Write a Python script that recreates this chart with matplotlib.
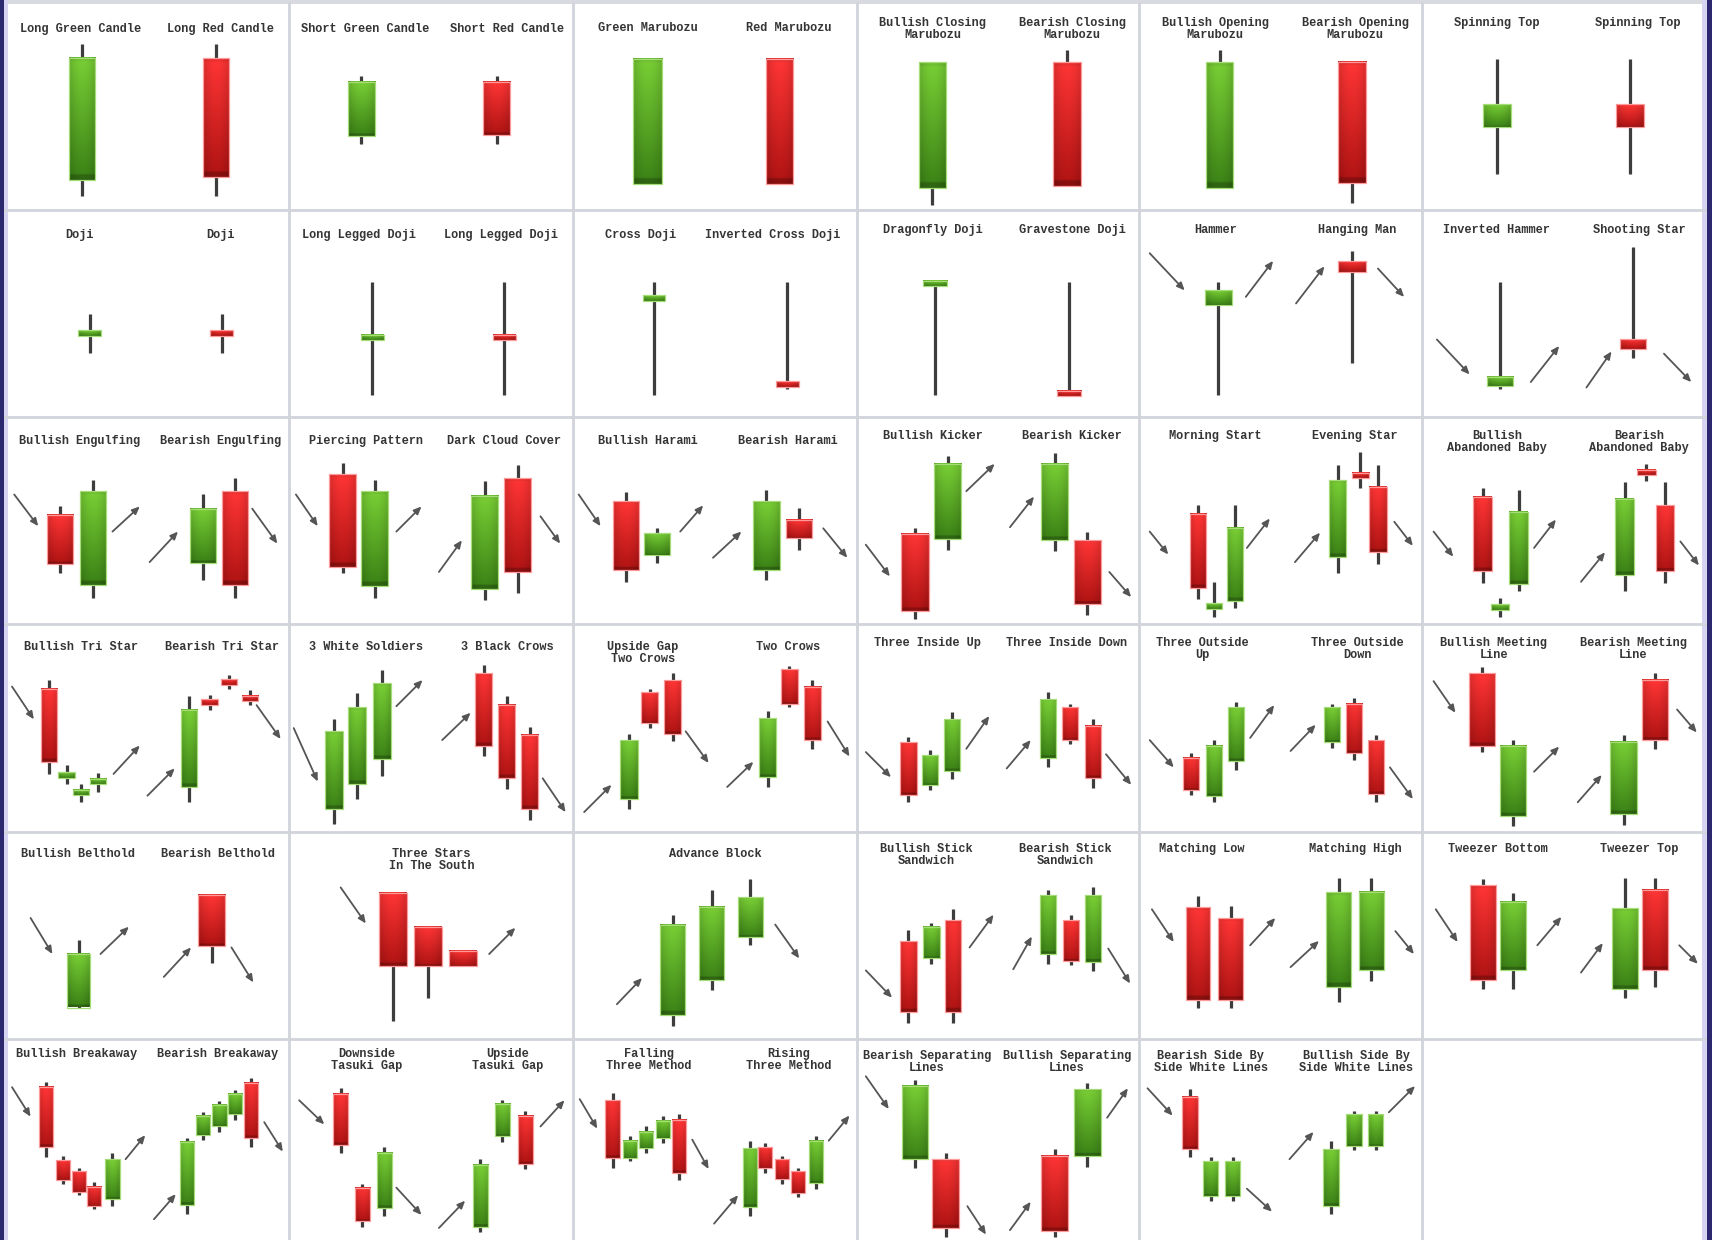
import numpy as np
import matplotlib
matplotlib.use("Agg")
import matplotlib.pyplot as plt
from matplotlib.colors import to_rgb
from matplotlib.patches import Rectangle
from matplotlib.lines import Line2D

# ------------------------------------------------------------------ data
# Each candle: (open, high, low, close), read in each cell's own price scale
# (0 = bottom of the cell, 190 = top of the cell).

R1_TITLES = ["Long Green Candle", "Long Red Candle", "Short Green Candle", "Short Red Candle",
             "Green Marubozu", "Red Marubozu", "Bullish Closing\nMarubozu", "Bearish Closing\nMarubozu",
             "Bullish Opening\nMarubozu", "Bearish Opening\nMarubozu", "Spinning Top", "Spinning Top"]
R1_OHLC = [[(28, 153, 13, 140)], [(140, 153, 13, 31)], [(68, 123, 61, 118)], [(118, 123, 61, 69)],
           [(24, 139, 24, 139)], [(139, 139, 24, 24)], [(21, 136, 5, 136)], [(136, 147, 23, 23)],
           [(21, 147, 21, 136)], [(136, 136, 7, 25)], [(77, 139, 34, 98)], [(98, 139, 34, 77)]]

R2_TITLES = ["Doji", "Doji", "Long Legged Doji", "Long Legged Doji", "Cross Doji", "Inverted Cross Doji",
             "Dragonfly Doji", "Gravestone Doji", "Hammer", "Hanging Man", "Inverted Hammer", "Shooting Star"]
R2_OHLC = [[(76, 94, 59, 78)], [(78, 94, 59, 76)], [(72, 124, 20, 74)], [(74, 124, 20, 72)],
           [(108, 124, 20, 110)], [(31, 124, 26, 29)], [(121, 124, 20, 124)], [(23, 124, 20, 20)],
           [(103, 124, 20, 116)], [(143, 152, 49, 133)], [(28, 124, 26, 37)], [(71, 156, 54, 62)]]

R3_TITLES = ["Bullish Engulfing", "Bearish Engulfing", "Piercing Pattern", "Dark Cloud Cover",
             "Bullish Harami", "Bearish Harami", "Bullish Kicker", "Bearish Kicker",
             "Morning Start", "Evening Star", "Bullish\nAbandoned Baby", "Bearish\nAbandoned Baby"]
R3_OHLC = [[(100, 108, 47, 55), (36, 132, 24, 122)],
           [(56, 119, 41, 106), (122, 134, 24, 36)],
           [(138, 148, 47, 53), (35, 132, 24, 122)],
           [(32, 131, 22, 118), (134, 146, 29, 48)],
           [(113, 121, 39, 50), (64, 88, 56, 84)],
           [(50, 123, 41, 113), (96, 107, 68, 79)],
           [(83, 88, 5, 12), (78, 154, 68, 147)],
           [(77, 157, 67, 147), (77, 85, 9, 19)],
           [(101, 109, 23, 33), (16, 39, 7, 18), (21, 109, 15, 88)],
           [(62, 146, 47, 132), (138, 158, 125, 135), (126, 146, 55, 66)],
           [(117, 125, 38, 49), (15, 24, 7, 17), (37, 123, 31, 103)],
           [(45, 130, 31, 115), (140, 147, 131, 138), (109, 130, 38, 49)]]

R4_TITLES = ["Bullish Tri Star", "Bearish Tri Star", "3 White Soldiers", "3 Black Crows",
             "Upside Gap\nTwo Crows", "Two Crows", "Three Inside Up", "Three Inside Down",
             "Three Outside\nUp", "Three Outside\nDown", "Bullish Meeting\nLine", "Bearish Meeting\nLine"]
R4_OHLC = [[(131, 139, 53, 64), (51, 61, 44, 53), (35, 44, 27, 37), (45, 54, 36, 47)],
           [(41, 124, 27, 112), (120, 125, 112, 118), (138, 144, 131, 136), (123, 130, 116, 121)],
           [(21, 103, 7, 92), (44, 127, 30, 114), (67, 148, 51, 136)],
           [(145, 153, 69, 79), (116, 124, 39, 49), (89, 96, 11, 21)],
           [(30, 90, 21, 84), (128, 131, 95, 100), (139, 145, 83, 90)],
           [(50, 111, 41, 104), (149, 152, 114, 117), (133, 139, 76, 84)],
           [(82, 87, 27, 34), (43, 75, 38, 70), (56, 110, 48, 103)],
           [(68, 128, 59, 122), (114, 117, 80, 84), (97, 103, 40, 49)],
           [(68, 72, 34, 38), (33, 84, 27, 79), (65, 119, 57, 114)],
           [(82, 117, 77, 114), (117, 123, 66, 72), (84, 89, 27, 35)],
           [(145, 151, 73, 79), (14, 84, 5, 79)],
           [(16, 89, 6, 82), (139, 145, 76, 84)]]

R5_TITLES = ["Bullish Belthold", "Bearish Belthold", "Three Stars\nIn The South", "Advance Block",
             "Bullish Stick\nSandwich", "Bearish Stick\nSandwich", "Matching Low", "Matching High",
             "Tweezer Bottom", "Tweezer Top"]
R5_OHLC = [[(29, 91, 29, 78)],
           [(132, 132, 70, 85)],
           [(134, 134, 17, 67), (103, 103, 38, 67), (81, 81, 67, 67)],
           [(22, 114, 12, 105), (54, 137, 45, 121), (94, 147, 86, 130)],
           [(90, 100, 15, 25), (74, 106, 69, 103), (109, 119, 15, 25)],
           [(78, 137, 69, 132), (109, 114, 68, 72), (71, 139, 62, 132)],
           [(121, 131, 29, 36), (111, 122, 29, 36)],
           [(48, 148, 34, 135), (63, 148, 53, 135)],
           [(141, 147, 46, 54), (63, 134, 46, 126)],
           [(46, 148, 38, 120), (137, 148, 48, 63)]]

R6_TITLES = ["Bullish Breakaway", "Bearish Breakaway", "Downside\nTasuki Gap", "Upside\nTasuki Gap",
             "Falling\nThree Method", "Rising\nThree Method", "Bearish Separating\nLines",
             "Bullish Separating\nLines", "Bearish Side By\nSide White Lines",
             "Bullish Side By\nSide White Lines"]
R6_OHLC = [[(146, 151, 82, 91), (79, 83, 57, 61), (69, 72, 47, 50), (55, 59, 34, 37), (44, 86, 37, 80)],
           [(38, 99, 30, 96), (102, 123, 98, 120), (110, 133, 105, 130), (121, 143, 116, 140), (150, 154, 91, 99)],
           [(140, 145, 86, 93), (54, 57, 18, 23), (35, 91, 28, 86)],
           [(18, 80, 13, 75), (101, 134, 96, 131), (120, 124, 71, 76)],
           [(134, 141, 72, 81), (81, 101, 78, 97), (90, 110, 86, 105), (99, 120, 95, 115), (116, 121, 61, 67)],
           [(36, 97, 28, 90), (91, 95, 67, 72), (80, 83, 57, 62), (69, 72, 45, 49), (58, 101, 53, 97)],
           [(80, 153, 72, 147), (80, 86, 9, 17)],
           [(83, 89, 9, 14), (83, 150, 73, 144)],
           [(137, 144, 82, 89), (46, 82, 42, 78), (46, 82, 42, 78)],
           [(37, 97, 30, 89), (92, 124, 88, 121), (92, 124, 88, 121)]]

# ------------------------------------------------------------------ layout
# candle x positions inside a cell, body widths, trend arrows (x0, y0, x1, y1), title centres
R1_X = [[70], [193], [66], [190], [68], [189], [69], [192], [74], [195], [69], [191]]
R1_W = [24, 24, 25, 25, 27, 25, 25, 26, 24, 26, 25, 25]
R1_ARROWS = [[] for _ in range(12)]
R1_TX = [69, 197, 69, 199, 68, 197, 69, 197, 70, 198, 69, 198]

R2_X = [[77], [198], [76], [197], [74], [196], [71], [194], [73], [195], [72], [194]]
R2_W = [21, 21, 21, 21, 21, 21, 22, 22, 25, 26, 24, 24]
R2_ARROWS = [[], [], [], [], [], [], [], [],
             [(10, 150, 42, 116), (98, 110, 123, 143)],
             [(144, 104, 170, 138), (219, 136, 243, 110)],
             [(14, 71, 44, 39), (100, 32, 126, 65)],
             [(151, 27, 174, 60), (222, 58, 247, 32)]]
R2_TX = [68, 197, 64, 194, 62, 183, 69, 197, 70, 200, 69, 199]

R3_X = [[50, 80], [181, 210], [49, 78], [179, 209], [48, 77], [177, 207],
        [53, 83], [181, 211], [54, 69, 88], [182, 203, 219], [56, 72, 89], [186, 206, 223]]
R3_W = [24, 24, 25, 25, 24, 24, 25, 25, 15, 16, 17, 17]
R3_ARROWS = [[(8, 119, 30, 90), (98, 85, 123, 108)],
             [(132, 57, 158, 85), (226, 106, 249, 74)],
             [(6, 119, 26, 90), (98, 85, 121, 108)],
             [(137, 48, 158, 77), (230, 99, 248, 74)],
             [(5, 119, 25, 90), (98, 85, 119, 109)],
             [(128, 61, 154, 85), (229, 88, 251, 61)],
             [(8, 73, 30, 44), (100, 122, 126, 147)],
             [(140, 89, 162, 117), (231, 48, 251, 25)],
             [(10, 85, 27, 64), (99, 70, 120, 97)],
             [(143, 57, 166, 84), (234, 94, 251, 72)],
             [(11, 85, 29, 62), (103, 70, 123, 96)],
             [(146, 39, 168, 66), (237, 76, 254, 54)]]
R3_TX = [68, 197, 70, 197, 68, 197, 69, 197, 70, 198, 69, 199]

R4_X = [[40, 56, 69, 85], [168, 187, 205, 224], [41, 62, 85], [178, 199, 220],
        [51, 70, 91], [178, 198, 219], [47, 67, 87], [175, 195, 216],
        [48, 69, 89], [177, 197, 217], [55, 84], [185, 214]]
R4_W = [15, 15, 16, 16, 16, 16, 15, 15, 15, 15, 24, 24]
R4_ARROWS = [[(6, 133, 26, 103), (99, 53, 123, 79)],
             [(130, 33, 155, 58), (230, 116, 252, 85)],
             [(4, 95, 26, 46), (98, 115, 122, 139)],
             [(140, 84, 166, 109), (232, 49, 253, 18)],
             [(10, 18, 35, 43), (103, 92, 124, 63)],
             [(141, 41, 165, 64), (233, 101, 253, 69)],
             [(8, 73, 31, 50), (100, 76, 121, 106)],
             [(137, 58, 159, 84), (228, 71, 251, 43)],
             [(10, 84, 32, 59), (102, 86, 124, 116)],
             [(139, 74, 162, 98), (230, 59, 251, 30)],
             [(11, 138, 31, 109), (103, 55, 126, 78)],
             [(143, 27, 165, 52), (234, 112, 252, 91)]]
R4_TX = [69, 198, 70, 200, 64, 197, 64, 192, 58, 200, 66, 194]

R5_X = [[67], [189], [95, 127, 159], [91, 127, 162], [47, 68, 88], [175, 196, 216],
        [54, 84], [183, 213], [56, 84], [186, 214]]
R5_W = [21, 25, 25, 23, 15, 15, 22, 23, 24, 24]
R5_ARROWS = [[(23, 111, 43, 78), (87, 78, 113, 103)],
             [(145, 57, 170, 84), (207, 84, 227, 52)],
             [(47, 139, 70, 106), (183, 78, 207, 102)],
             [(40, 32, 63, 56), (185, 105, 207, 74)],
             [(8, 63, 32, 38), (103, 84, 125, 114)],
             [(143, 64, 160, 94), (230, 83, 250, 51)],
             [(12, 119, 32, 89), (102, 86, 125, 111)],
             [(139, 66, 165, 90), (235, 99, 252, 78)],
             [(13, 119, 33, 89), (106, 86, 128, 112)],
             [(146, 61, 166, 88), (236, 86, 253, 69)]]
R5_TX = [66, 195, 130, 130, 63, 191, 58, 198, 70, 199]

R6_X = [[37, 53, 67, 81, 98], [166, 181, 196, 210, 225], [47, 67, 87], [175, 195, 216],
        [36, 52, 67, 82, 97], [162, 176, 191, 206, 222], [53, 81], [181, 211],
        [47, 66, 86], [176, 197, 217]]
R6_W = [13, 13, 14, 14, 13, 13, 24, 25, 14, 14]
R6_ARROWS = [[(6, 146, 23, 119), (110, 80, 128, 102)],
             [(136, 25, 156, 48), (237, 114, 254, 87)],
             [(9, 134, 32, 112), (98, 54, 121, 29)],
             [(137, 17, 161, 42), (230, 110, 252, 134)],
             [(6, 135, 22, 108), (109, 98, 124, 71)],
             [(129, 21, 151, 47), (234, 97, 253, 120)],
             [(8, 156, 29, 126), (101, 37, 118, 11)],
             [(140, 15, 159, 41), (229, 118, 248, 145)],
             [(8, 145, 31, 120), (99, 53, 122, 32)],
             [(138, 80, 160, 105), (229, 123, 253, 147)]]
R6_TX = [65, 194, 71, 200, 69, 197, 64, 192, 66, 199]

CELL_COUNTS = [[2] * 6, [2] * 6, [2] * 6, [2] * 6, [2, 1, 1, 2, 2, 2], [2, 2, 2, 2, 2, 0]]
TITLE_Y = [[24, 24, 23, 18, 18, 18], [23, 23, 23, 19, 19, 19], [22, 22, 22, 17, 17, 17],
           [21, 21, 21, 17, 17, 17], [20, 20, 20, 16, 16, 16], [14, 14, 14, 15, 15, 15]]

W_REF, H_REF = 1568.0, 1136.0
COL_EDGES = [5, 265, 525, 785, 1043, 1302, 1562]
ROW_TOPS = [3, 192, 382, 572, 762, 952]
CELL_H = 190

# ------------------------------------------------------------------ styles
GREEN_TOP, GREEN_BOT = np.array(to_rgb("#79cf35")), np.array(to_rgb("#3b8216"))
RED_TOP, RED_BOT = np.array(to_rgb("#ff3535")), np.array(to_rgb("#b01313"))
WICK = "#3d3d3d"
ARROW = "#555555"
TEXT = "#353535"


def body_image(top, bot):
    n, m = 64, 16
    t = np.linspace(0, 1, n)[:, None]
    col = top[None, :] * (1 - t) + bot[None, :] * t
    u = np.linspace(-1, 1, m)
    shade = 1 - 0.14 * u ** 2
    img = col[:, None, :] * shade[None, :, None]
    img[-3:] *= 0.78
    img[:2] *= 0.93
    return np.clip(img, 0, 1)


IMG_G = body_image(GREEN_TOP, GREEN_BOT)
IMG_R = body_image(RED_TOP, RED_BOT)


def draw_candle(ax, x, w, o, h, l, c):
    bull = c >= o
    ax.add_line(Line2D([x, x], [l, h], color=WICK, lw=2.3, solid_capstyle="butt", zorder=2))
    lo, hi = min(o, c), max(o, c)
    if hi - lo < 5:
        mid = (hi + lo) / 2.0
        lo, hi = mid - 2.5, mid + 2.5
    img = IMG_G if bull else IMG_R
    ax.imshow(img, extent=(x - w / 2, x + w / 2, lo, hi), origin="upper", aspect="auto",
              interpolation="bilinear", zorder=3)
    ax.add_patch(Rectangle((x - w / 2, lo), w, hi - lo, fill=False,
                           edgecolor="#a5dd78" if bull else "#ff9a9a", lw=0.9, zorder=4))


fig = plt.figure(figsize=(17.12, 12.40), dpi=100)
fig.patch.set_facecolor("white")

rows = [(R1_TITLES, R1_OHLC, R1_X, R1_W, R1_ARROWS, R1_TX),
        (R2_TITLES, R2_OHLC, R2_X, R2_W, R2_ARROWS, R2_TX),
        (R3_TITLES, R3_OHLC, R3_X, R3_W, R3_ARROWS, R3_TX),
        (R4_TITLES, R4_OHLC, R4_X, R4_W, R4_ARROWS, R4_TX),
        (R5_TITLES, R5_OHLC, R5_X, R5_W, R5_ARROWS, R5_TX),
        (R6_TITLES, R6_OHLC, R6_X, R6_W, R6_ARROWS, R6_TX)]

for r, (titles, ohlc, xs, ws, arrows, tx) in enumerate(rows):
    k = 0
    top = ROW_TOPS[r]
    for c in range(6):
        left, right = COL_EDGES[c], COL_EDGES[c + 1]
        ax = fig.add_axes([left / W_REF, 1 - (top + CELL_H) / H_REF,
                           (right - left) / W_REF, CELL_H / H_REF])
        ax.axis("off")
        for _ in range(CELL_COUNTS[r][c]):
            for (o, h, l, cl), x in zip(ohlc[k], xs[k]):
                draw_candle(ax, x, ws[k], o, h, l, cl)
            for (x0, y0, x1, y1) in arrows[k]:
                ax.annotate("", xy=(x1, y1), xytext=(x0, y0), annotation_clip=False,
                            arrowprops=dict(arrowstyle="-|>,head_length=0.45,head_width=0.2",
                                            color=ARROW, lw=1.3, shrinkA=0, shrinkB=0))
            for i, line in enumerate(titles[k].split("\n")):
                ax.text(tx[k], CELL_H - TITLE_Y[r][c] - i * 11, line, ha="center", va="center",
                        fontsize=8.6, fontweight="bold", family="Liberation Mono", color=TEXT)
            k += 1
        ax.set_xlim(0, right - left)
        ax.set_ylim(0, CELL_H)

# grid lines and frame
GRID = "#d2d4dc"
for xe in COL_EDGES[1:-1]:
    fig.add_artist(Line2D([xe / W_REF] * 2, [0, 1 - ROW_TOPS[0] / H_REF],
                          transform=fig.transFigure, color=GRID, lw=2.0))
for ye in ROW_TOPS[1:]:
    fig.add_artist(Line2D([COL_EDGES[0] / W_REF, COL_EDGES[-1] / W_REF], [1 - ye / H_REF] * 2,
                          transform=fig.transFigure, color=GRID, lw=2.0))
fig.add_artist(Rectangle((0, 1 - 4 / H_REF), 1, 4 / H_REF, transform=fig.transFigure,
                         color="#d9dae0", lw=0))
fig.add_artist(Rectangle((0, 0), 3.5 / W_REF, 1, transform=fig.transFigure, color="#2b2870", lw=0))
fig.add_artist(Rectangle((3.5 / W_REF, 0), 4 / W_REF, 1, transform=fig.transFigure,
                         color="#d6d4f0", lw=0))
fig.add_artist(Rectangle((1 - 4.5 / W_REF, 0), 4.5 / W_REF, 1, transform=fig.transFigure,
                         color="#2b2870", lw=0))
fig.add_artist(Rectangle((1 - 9 / W_REF, 0), 4.5 / W_REF, 1, transform=fig.transFigure,
                         color="#d6d4f0", lw=0))

fig.savefig("out.png", dpi=100, facecolor="white")
